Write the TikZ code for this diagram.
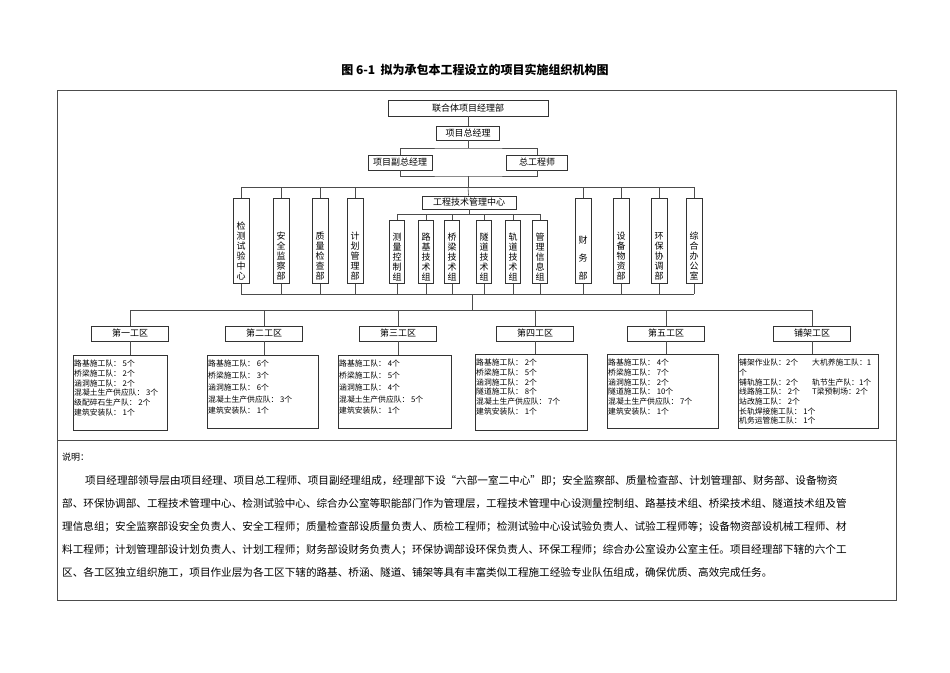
\documentclass[tikz,border=0pt]{standalone}
\usepackage{fontspec}
\setmainfont{Noto Sans CJK SC}
\XeTeXlinebreaklocale "zh"
\XeTeXlinebreakskip=0pt plus 2pt
\begin{document}
\begin{tikzpicture}[x=1pt,y=-1pt,
  bx/.style={draw=black!80,line width=0.6pt,inner sep=0pt,font=\fontsize{9}{10}\selectfont},
  vb/.style={bx,anchor=north,minimum width=16,minimum height=85,align=center,text depth=0pt},
  sb/.style={bx,anchor=north,minimum width=15,minimum height=63,align=center},
  gq/.style={bx,minimum width=77,minimum height=15},
  db/.style={draw=black!80,line width=0.6pt,inner sep=0pt,anchor=north west},
  dt/.style={anchor=north west,inner sep=0pt,align=left,font=\fontsize{7.8}{9.7}\selectfont},
  ln/.style={draw=black!70,line width=0.6pt}]
\useasboundingbox (0,0) rectangle (950,672);
\node[font=\bfseries\fontsize{12}{14}\selectfont] (title) at (475,70) {图 6-1\ \ 拟为承包本工程设立的项目实施组织机构图};
\draw[black!70,line width=0.7pt] (57,90) rectangle (896,600);
\draw[black!70,line width=0.7pt] (57,440) -- (896,440);
% top
\node[bx,minimum width=160,minimum height=16] (top) at (468,108) {联合体项目经理部};
\node[bx,minimum width=63,minimum height=14] (zjl) at (468,133) {项目总经理};
\node[bx,minimum width=64,minimum height=15] (fu) at (400,162.5) {项目副总经理};
\node[bx,minimum width=61,minimum height=15] (zg) at (537,162.5) {总工程师};
\draw[ln] (top) -- (zjl);
\coordinate (c1) at (468,148);
\draw[ln] (zjl) -- (c1);
\draw[ln] (fu.north) |- (c1) -| (zg.north);
\coordinate (c2) at (468,176);
\coordinate (c3) at (468,187);
\draw[ln] (fu.south) |- (c2) -| (zg.south);
\draw[ln] (c2) -- (c3);
% vertical boxes
\foreach \n/\x/\t in {v1/241/检\\测\\试\\验\\中\\心, v2/281/安\\全\\监\\察\\部, v3/320/质\\量\\检\\查\\部, v4/355/计\\划\\管\\理\\部,
  v5/583/财\\[8pt]务\\[8pt]部, v6/621/设\\备\\物\\资\\部, v7/659/环\\保\\协\\调\\部, v8/694/综\\合\\办\\公\\室}
  {\node[vb,text height=78] (\n) at (\x,198) {\t};}
\foreach \n in {v1,v2,v3,v4,v5,v6,v7,v8}{\draw[ln] (\n.north) -- (\n.north |- c3);}
\draw[ln] (v1.north |- c3) -- (v8.north |- c3);
\node[bx,minimum width=94,minimum height=13] (gc) at (469,202.5) {工程技术管理中心};
\draw[ln] (c3) -- (gc);
\coordinate (c4) at (469,214);
\draw[ln] (gc) -- (c4);
\foreach \n/\x/\t in {s1/397/测\\量\\控\\制\\组, s2/426/路\\基\\技\\术\\组, s3/452/桥\\梁\\技\\术\\组, s4/484/隧\\道\\技\\术\\组, s5/513/轨\\道\\技\\术\\组, s6/540/管\\理\\信\\息\\组}
  {\node[sb,text height=58] (\n) at (\x,220) {\t};
   \draw[ln] (\n.north) -- (\n.north |- c4);}
\draw[ln] (s1.north |- c4) -- (s6.north |- c4);
% bottom bus
\coordinate (c5) at (472,294);
\coordinate (c6) at (472,310);
\foreach \n in {v1,v2,v3,v4,v5,v6,v7,v8,s1,s2,s3,s4,s5,s6}{\draw[ln] (\n.south) -- (\n.south |- c5);}
\draw[ln] (v1.south |- c5) -- (v8.south |- c5);
\draw[ln] (c5) -- (c6);
\foreach \n/\x/\t in {g1/130/第一工区, g2/264/第二工区, g3/398/第三工区, g4/535/第四工区, g5/666/第五工区, g6/812/铺架工区}
  {\node[gq] (\n) at (\x,333.5) {\t};
   \draw[ln] (\n.north) -- (\n.north |- c6);}
\draw[ln] (g1.north |- c6) -- (g6.north |- c6);
% detail boxes
\node[db,minimum width=94,minimum height=75] (d1) at (73,355) {};
\node[db,minimum width=111,minimum height=73] (d2) at (207,355) {};
\node[db,minimum width=113,minimum height=73] (d3) at (338,355) {};
\node[db,minimum width=112,minimum height=76] (d4) at (475,354) {};
\node[db,minimum width=111,minimum height=74] (d5) at (607,354) {};
\node[db,minimum width=140,minimum height=74] (d6) at (738,354) {};
\foreach \a/\b in {g1/d1,g2/d2,g3/d3,g4/d4,g5/d5,g6/d6}{\draw[ln] (\a.south) -- (\a.south |- \b.north);}
\node[dt] (t1) at (74,360) {路基施工队：\ 5个\\桥梁施工队：\ 2个\\涵洞施工队：\ 2个\\混凝土生产供应队：\ 3个\\级配碎石生产队：\ 2个\\建筑安装队：\ 1个};
\node[dt,font=\fontsize{7.8}{11.8}\selectfont] (t2) at (208,360) {路基施工队：\ 6个\\桥梁施工队：\ 3个\\涵洞施工队：\ 6个\\混凝土生产供应队：\ 3个\\建筑安装队：\ 1个};
\node[dt,font=\fontsize{7.8}{11.8}\selectfont] (t3) at (339,360) {路基施工队：\ 4个\\桥梁施工队：\ 5个\\涵洞施工队：\ 4个\\混凝土生产供应队：\ 5个\\建筑安装队：\ 1个};
\node[dt] (t4) at (476,359) {路基施工队：\ 2个\\桥梁施工队：\ 5个\\涵洞施工队：\ 2个\\隧道施工队：\ 8个\\混凝土生产供应队：\ 7个\\建筑安装队：\ 1个};
\node[dt] (t5) at (608,359) {路基施工队：\ 4个\\桥梁施工队：\ 7个\\涵洞施工队：\ 2个\\隧道施工队：\ 10个\\混凝土生产供应队：\ 7个\\建筑安装队：\ 1个};
\node[dt] (t6) at (739,359) {铺架作业队：2个\\个\\铺轨施工队：2个\\线路施工队：\ 2个\\站改施工队：\ 2个\\长轨焊接施工队：\ 1个\\机务运管施工队：\ 1个};
\node[dt] (t7) at (812,359) {大机养施工队：1\\[9.7pt]轨节生产队：1个\\T梁预制场：2个};
% description
\node[anchor=west,inner sep=0pt,font=\fontsize{9}{10}\selectfont] (sm) at (62,457) {说明：};
\begin{scope}[every node/.style={anchor=west,inner sep=0pt,font=\fontsize{10.6}{12}\selectfont}]
\node (p1) at (85,481) {\makebox[803pt][s]{项目经理部领导层由项目经理、项目总工程师、项目副经理组成，经理部下设“六部一室二中心”即；安全监察部、质量检查部、计划管理部、财务部、设备物资}};
\node (p2) at (62,504) {\makebox[826pt][s]{部、环保协调部、工程技术管理中心、检测试验中心、综合办公室等职能部门作为管理层，工程技术管理中心设测量控制组、路基技术组、桥梁技术组、隧道技术组及管}};
\node (p3) at (62,527) {\makebox[826pt][s]{理信息组；安全监察部设安全负责人、安全工程师；质量检查部设质量负责人、质检工程师；检测试验中心设试验负责人、试验工程师等；设备物资部设机械工程师、材}};
\node (p4) at (62,550) {\makebox[826pt][s]{料工程师；计划管理部设计划负责人、计划工程师；财务部设财务负责人；环保协调部设环保负责人、环保工程师；综合办公室设办公室主任。项目经理部下辖的六个工}};
\node (p5) at (62,573) {区、各工区独立组织施工，项目作业层为各工区下辖的路基、桥涵、隧道、铺架等具有丰富类似工程施工经验专业队伍组成，确保优质、高效完成任务。};
\end{scope}
\end{tikzpicture}
\end{document}
